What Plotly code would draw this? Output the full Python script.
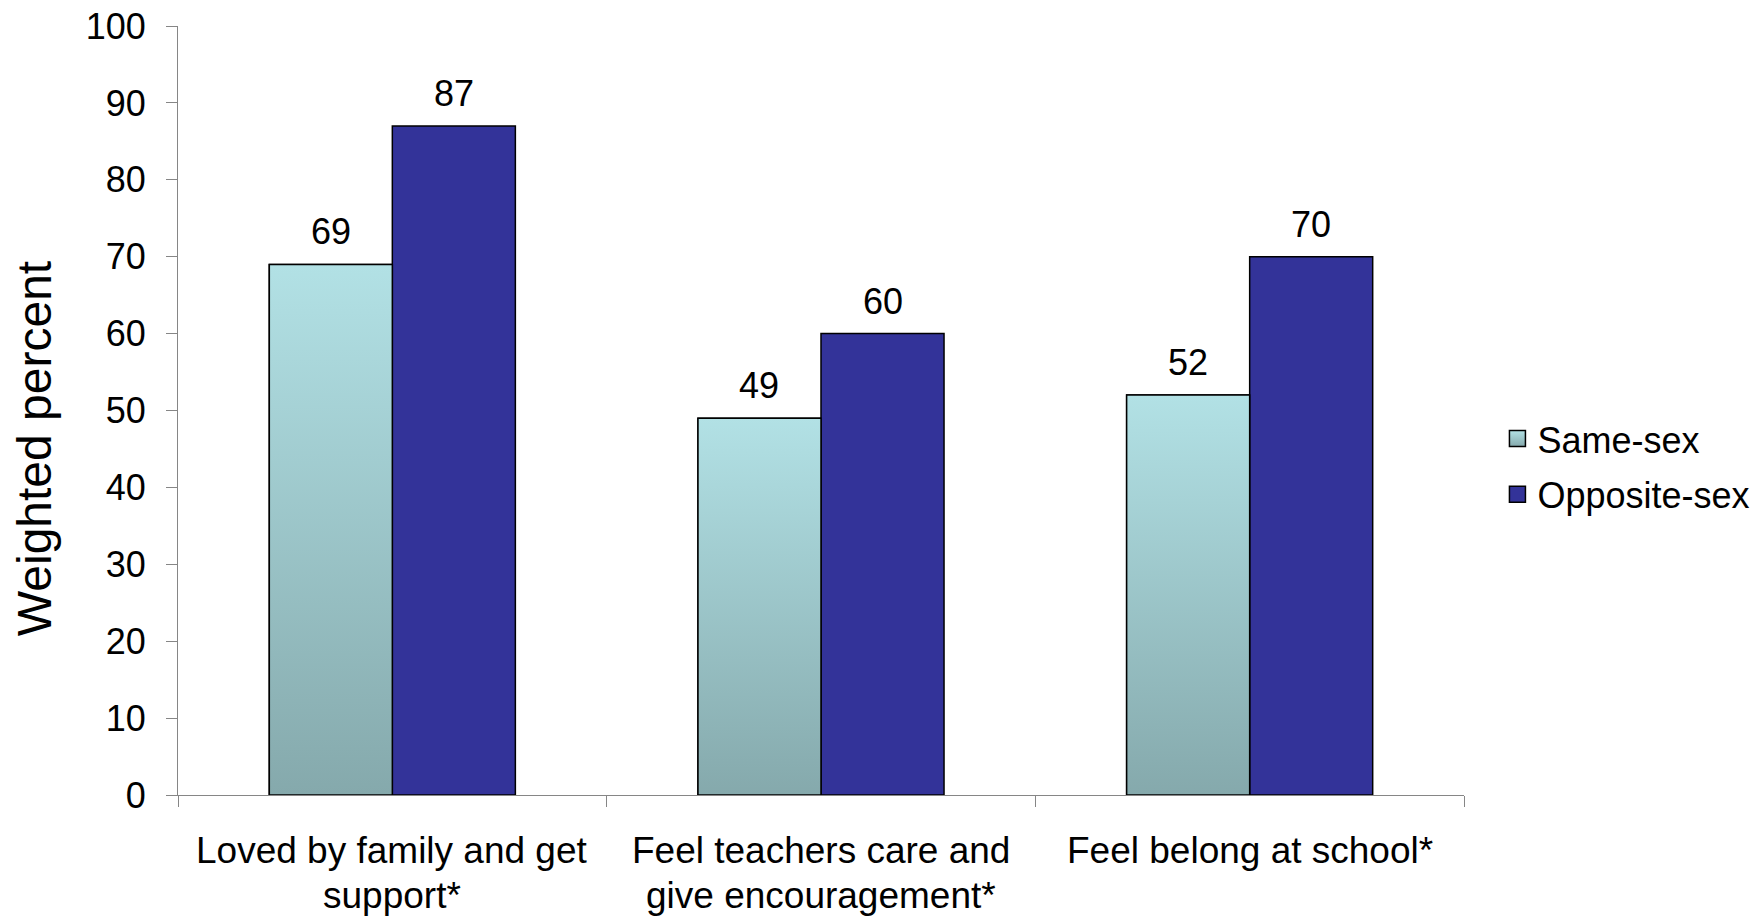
import plotly.graph_objects as go

# Survey items (two-line wrapped) and weighted percentages by partner-sex group
categories = [["Loved by family and get", "support*"],
              ["Feel teachers care and", "give encouragement*"],
              ["Feel belong at school*"]]
same_sex = [69, 49, 52]
opposite_sex = [87, 60, 70]
series_names = ["Same-sex", "Opposite-sex"]
y_ticks = [0, 10, 20, 30, 40, 50, 60, 70, 80, 90, 100]

FONT = "Liberation Sans, Arial, sans-serif"
AXIS_GREY = "#868686"
TEAL_TOP = "#B2E1E5"
TEAL_BOTTOM = "#85A9AC"
NAVY = "#333399"
BAR_W = 0.287

x_pos = list(range(len(categories)))

fig = go.Figure()

# Same-sex bars (solid base under the gradient overlay)
fig.add_trace(go.Bar(
    x=x_pos, y=same_sex, name=series_names[0],
    width=BAR_W, offset=-BAR_W, showlegend=False,
    marker=dict(color="#9FCBCF", line=dict(color="black", width=1.5)),
))
# Opposite-sex bars
fig.add_trace(go.Bar(
    x=x_pos, y=opposite_sex, name=series_names[1],
    width=BAR_W, offset=0, showlegend=False,
    marker=dict(color=NAVY, line=dict(color="black", width=1.5)),
))

# Vertical gradient fill over each Same-sex bar
for i, v in zip(x_pos, same_sex):
    x0, x1 = i - BAR_W, i
    fig.add_trace(go.Scatter(
        x=[x0, x0, x1, x1, x0], y=[0, v, v, 0, 0],
        mode="lines", fill="toself",
        fillgradient=dict(type="vertical",
                          colorscale=[[0, TEAL_BOTTOM], [1, TEAL_TOP]]),
        line=dict(color="black", width=1.5),
        showlegend=False, hoverinfo="skip",
    ))

# Legend entries with larger square swatches
fig.add_trace(go.Scatter(
    x=[None], y=[None], mode="markers", name=series_names[0],
    legendgroup="a",
    marker=dict(symbol="square", size=16, color=TEAL_TOP,
                gradient=dict(type="vertical", color=TEAL_BOTTOM),
                line=dict(color="black", width=1.5)),
))
fig.add_trace(go.Scatter(
    x=[None], y=[None], mode="markers", name=series_names[1],
    legendgroup="b",
    marker=dict(symbol="square", size=16, color=NAVY,
                line=dict(color="black", width=1.5)),
))

annotations = []

# Value labels above the bars
for i, (a, b) in enumerate(zip(same_sex, opposite_sex)):
    for xc, v in ((i - BAR_W / 2, a), (i + BAR_W / 2, b)):
        annotations.append(dict(
            x=xc, y=v, xref="x", yref="y", text=str(v),
            showarrow=False, yanchor="bottom", yshift=10,
            font=dict(family=FONT, size=36, color="black"),
        ))

# Category labels under the axis, one annotation per line for tight leading
for i, lines in zip(x_pos, categories):
    for k, line in enumerate(lines):
        annotations.append(dict(
            x=i, y=0, xref="x", yref="paper", text=line,
            showarrow=False, xanchor="center", yanchor="top",
            yshift=-33 - 45 * k,
            font=dict(family=FONT, size=37, color="black"),
        ))

# Vertical axis title
annotations.append(dict(
    x=-0.112, y=0.451, xref="paper", yref="paper",
    text="Weighted percent", textangle=-90, showarrow=False,
    xanchor="center", yanchor="middle",
    font=dict(family=FONT, size=48, color="black"),
))

fig.update_layout(
    width=1762, height=916,
    margin=dict(l=178, r=298, t=26, b=121, autoexpand=False),
    paper_bgcolor="white", plot_bgcolor="white",
    font=dict(family=FONT, size=36, color="black"),
    barmode="overlay",
    showlegend=True,
    legend=dict(x=1.026, y=0.427, xanchor="left", yanchor="middle",
                font=dict(family=FONT, size=36, color="black"),
                bgcolor="rgba(0,0,0,0)", traceorder="grouped",
                tracegroupgap=6, itemsizing="trace"),
    annotations=annotations,
)

fig.update_xaxes(
    range=[-0.5, 2.5], automargin=False,
    tickmode="array", tickvals=x_pos, showticklabels=False,
    ticks="", showgrid=False, zeroline=False,
    showline=True, linecolor=AXIS_GREY, linewidth=1,
    minor=dict(tick0=0.5, dtick=1, ticks="outside", ticklen=11,
               tickcolor=AXIS_GREY, showgrid=False),
)
fig.update_yaxes(
    range=[0, 100], automargin=False,
    tickmode="array", tickvals=y_ticks,
    ticks="outside", ticklen=11, tickcolor=AXIS_GREY,
    showgrid=False, zeroline=False,
    showline=True, linecolor=AXIS_GREY, linewidth=1,
    ticklabelstandoff=13,
    tickfont=dict(family=FONT, size=36, color="black"),
)

fig.write_html("out.html")
